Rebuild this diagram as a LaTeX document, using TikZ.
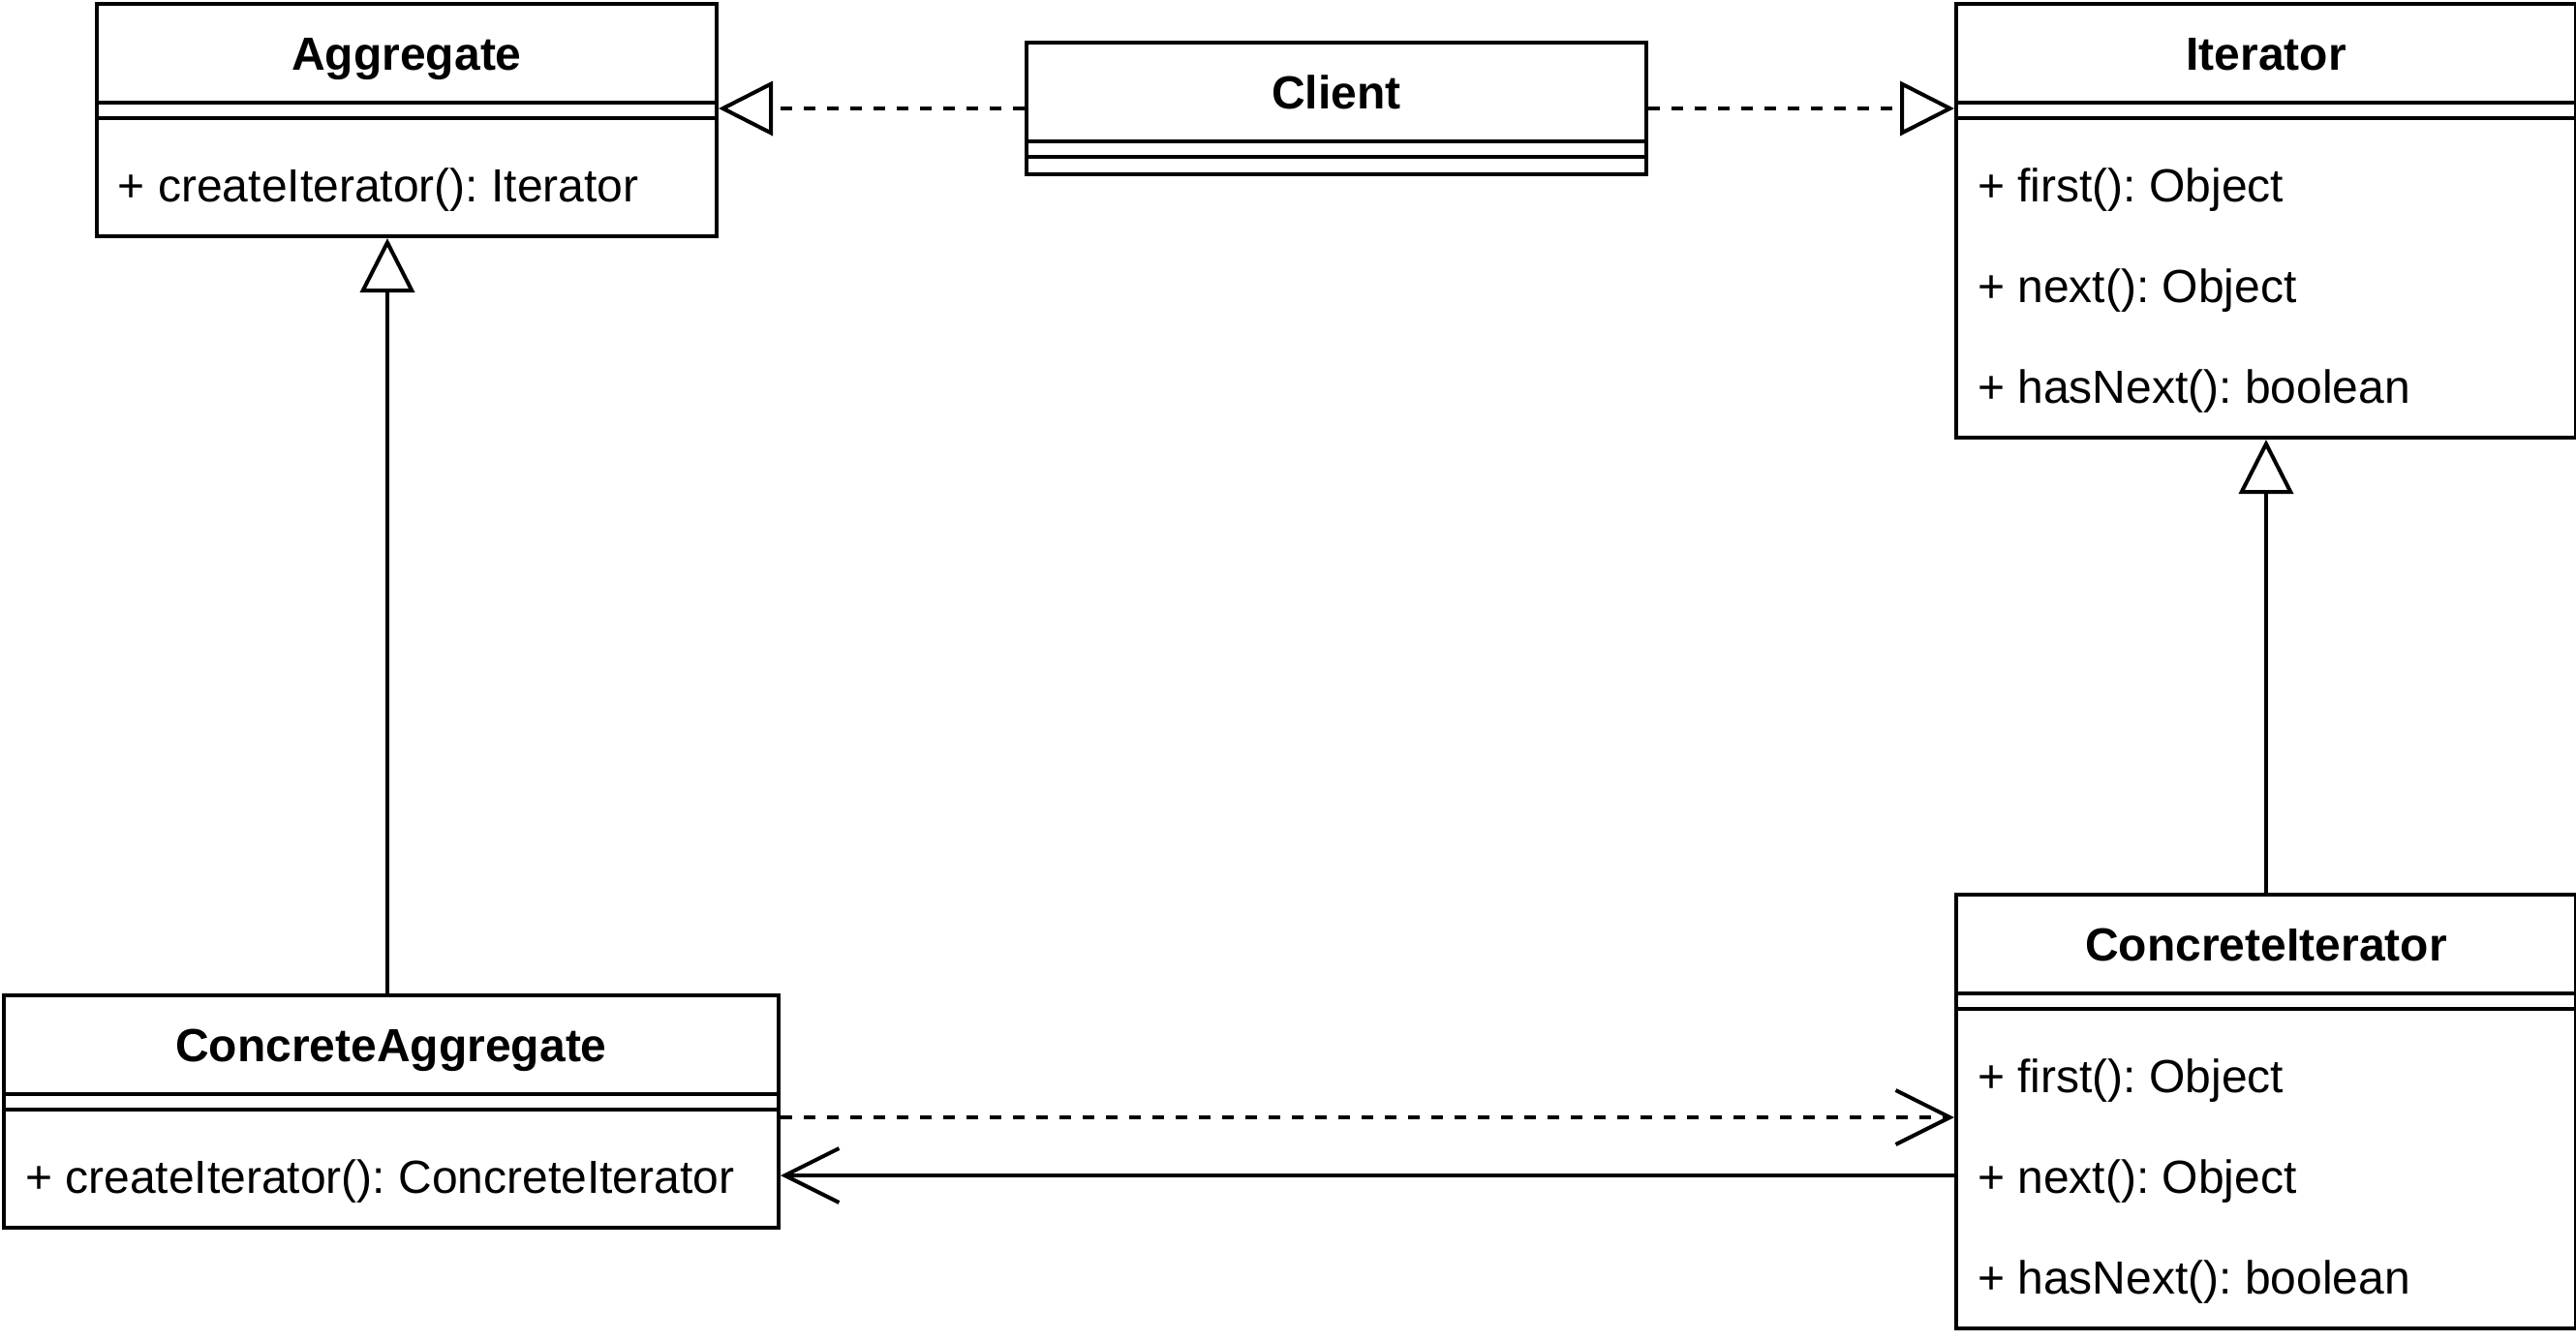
\documentclass[tikz,border=0pt]{standalone}
\usepackage{fontspec}
\setmainfont{Liberation Sans}
\usetikzlibrary{arrows.meta,positioning}
\frenchspacing

\begin{document}
\begin{tikzpicture}[x=1pt, y=-1pt, line width=1pt,
	classbox/.style={draw, anchor=north west, minimum width=160pt, inner sep=0pt},
	title/.style={anchor=base, inner sep=0pt, font=\fontsize{12}{14}\selectfont\bfseries},
	member/.style={anchor=base west, inner sep=0pt, font=\fontsize{12}{14}\selectfont},
	realize/.style={dash pattern=on 3pt off 3pt, -{Triangle[open, length=14pt, width=14pt]}},
	inherit/.style={-{Triangle[open, length=14pt, width=14pt]}},
	depend/.style={dash pattern=on 3pt off 3pt, -{Straight Barb[length=14pt, width=14pt]}},
	assoc/.style={-{Straight Barb[length=14pt, width=14pt]}}]
	\useasboundingbox (0,0) rectangle (665,346);

		% classes
		\node[classbox, minimum height=60pt] (aggregate) at (24.5,0.5) {};
		\node[classbox, minimum height=34pt] (client) at (264.5,10.5) {};
		\node[classbox, minimum height=112pt] (iterator) at (504.5,0.5) {};
		\node[classbox, minimum width=200pt, minimum height=60pt] (concreteagg) at (0.5,256.5) {};
		\node[classbox, minimum height=112pt] (concreteit) at (504.5,230.5) {};

		\foreach \c in {aggregate, client, iterator, concreteagg, concreteit} {
			\draw ([yshift=-26pt]\c.north west) -- ([yshift=-26pt]\c.north east);
			\draw ([yshift=-30pt]\c.north west) -- ([yshift=-30pt]\c.north east);
		}

		\node[title] (aggregate-name) at ([yshift=-17.5pt]aggregate.north) {Aggregate};
		\node[title] (client-name) at ([yshift=-17.5pt]client.north) {Client};
		\node[title] (iterator-name) at ([yshift=-17.5pt]iterator.north) {Iterator};
		\node[title] (concreteagg-name) at ([yshift=-17.5pt]concreteagg.north) {ConcreteAggregate};
		\node[title] (concreteit-name) at ([yshift=-17.5pt]concreteit.north) {ConcreteIterator};

		% members
		\node[member] (aggregate-create) at ([xshift=5.5pt, yshift=-51.5pt]aggregate.north west) {+ createIterator(): Iterator};
		\node[member] (concreteagg-create) at ([xshift=5.5pt, yshift=-51.5pt]concreteagg.north west) {+ createIterator(): ConcreteIterator};
		\foreach \c in {iterator, concreteit} {
			\node[member] (\c-first) at ([xshift=5.5pt, yshift=-51.5pt]\c.north west) {+ first(): Object};
			\node[member] (\c-next) at ([xshift=5.5pt, yshift=-77.5pt]\c.north west) {+ next(): Object};
			\node[member] (\c-hasnext) at ([xshift=5.5pt, yshift=-103.5pt]\c.north west) {+ hasNext(): boolean};
		}

		% relations
		\draw[realize] (client.west) -- (client.west -| aggregate.east);
		\draw[realize] (client.east) -- (client.east -| iterator.west);
		\draw[inherit] ([xshift=-1pt]concreteagg.north) -- ([xshift=-1pt]concreteagg.north |- aggregate.south);
		\draw[inherit] (concreteit.north) -- (concreteit.north |- iterator.south);
		\draw[depend] ([yshift=-32pt]concreteagg.north east) -- ([yshift=-32pt]concreteagg.north east -| concreteit.west);
		\draw[assoc] ([yshift=-73pt]concreteit.north west) -- ([yshift=-73pt]concreteit.north west -| concreteagg.east);
	\end{tikzpicture}
\end{document}
